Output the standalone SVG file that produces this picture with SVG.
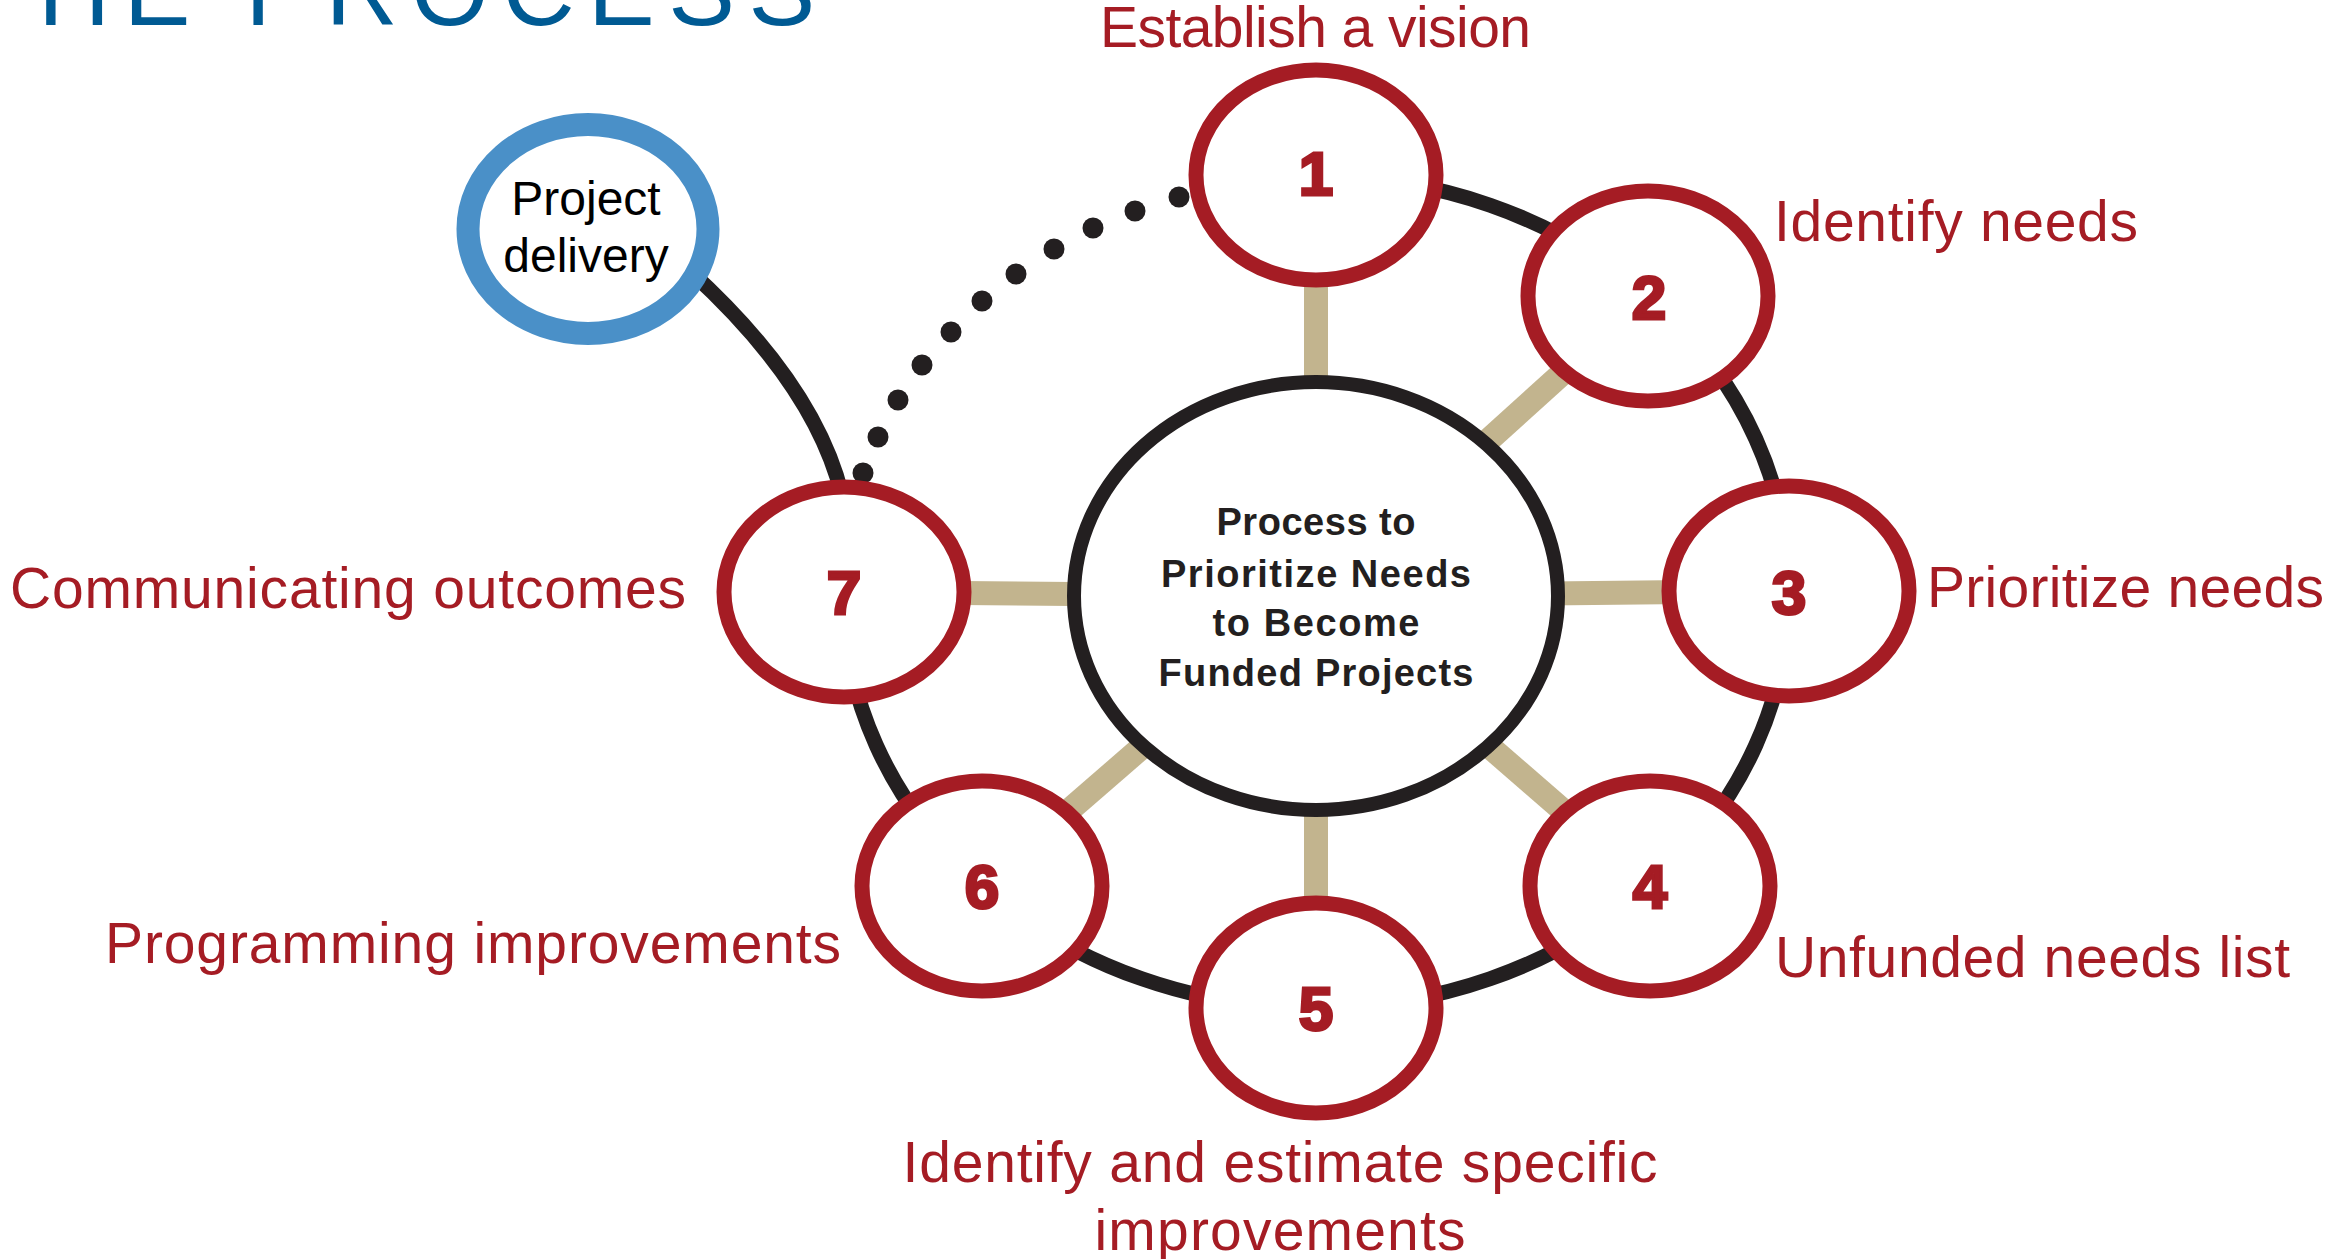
<svg xmlns="http://www.w3.org/2000/svg" width="2331" height="1259" viewBox="0 0 2331 1259">
<defs>
<style>
.spoke{stroke:#C2B48E;stroke-width:24;fill:none}
.ring{stroke:#231F20;stroke-width:15;fill:none}
.dot{fill:#231F20}
.node{fill:#fff;stroke:#A51C24;stroke-width:15}
.num{font-family:"Liberation Sans",Arial,sans-serif;font-weight:bold;font-size:62px;fill:#A51C24;stroke:#A51C24;stroke-width:3;text-anchor:middle}
.lbl{font-family:"Liberation Sans",Arial,sans-serif;font-size:57px;fill:#A51C24}
.ctr{font-family:"Liberation Sans",Arial,sans-serif;font-weight:bold;font-size:38px;fill:#231F20;text-anchor:middle}
</style>
</defs>
<rect width="2331" height="1259" fill="#fff"/>
<g id="title">
<text x="38" y="25" font-family="'Liberation Sans',Arial,sans-serif" font-size="100" letter-spacing="13.5" fill="#005A93">HE PROCESS</text>
</g>
<g id="connectors">
<line class="spoke" x1="1316" y1="596" x2="1316" y2="175"/>
<line class="spoke" x1="1316" y1="596" x2="1648" y2="296"/>
<line class="spoke" x1="1316" y1="596" x2="1789" y2="591"/>
<line class="spoke" x1="1316" y1="596" x2="1650" y2="886"/>
<line class="spoke" x1="1316" y1="596" x2="1316" y2="1008"/>
<line class="spoke" x1="1316" y1="596" x2="982" y2="886"/>
<line class="spoke" x1="1316" y1="596" x2="844" y2="592"/>
<path class="ring" d="M 1316 176 A 473 416 0 1 1 843 592"/>
<path class="ring" d="M 690 271 Q 815 385 842 495"/>
<circle class="dot" cx="863" cy="473" r="10.5"/>
<circle class="dot" cx="878" cy="437" r="10.5"/>
<circle class="dot" cx="898" cy="400" r="10.5"/>
<circle class="dot" cx="922" cy="365" r="10.5"/>
<circle class="dot" cx="951" cy="332" r="10.5"/>
<circle class="dot" cx="982" cy="301" r="10.5"/>
<circle class="dot" cx="1016" cy="274" r="10.5"/>
<circle class="dot" cx="1054" cy="249" r="10.5"/>
<circle class="dot" cx="1093" cy="228" r="10.5"/>
<circle class="dot" cx="1135" cy="211" r="10.5"/>
<circle class="dot" cx="1179" cy="197" r="10.5"/>
</g>
<g id="center">
<ellipse cx="1316" cy="596" rx="242" ry="214" fill="#fff" stroke="#231F20" stroke-width="14"/>
<text class="ctr" x="1316" y="535" textLength="199">Process to</text>
<text class="ctr" x="1316" y="587" textLength="310">Prioritize Needs</text>
<text class="ctr" x="1316" y="636" textLength="207">to Become</text>
<text class="ctr" x="1316" y="686" textLength="315">Funded Projects</text>
</g>
<g id="project-delivery">
<ellipse cx="588" cy="229" rx="120" ry="104.5" fill="#fff" stroke="#4A90C8" stroke-width="23"/>
<text x="586" y="215" font-family="'Liberation Sans',Arial,sans-serif" font-size="48" fill="#000" text-anchor="middle">Project</text>
<text x="586" y="272" font-family="'Liberation Sans',Arial,sans-serif" font-size="48" fill="#000" text-anchor="middle">delivery</text>
</g>
<g id="node1">
<ellipse class="node" cx="1316" cy="175" rx="120" ry="105"/>
<text class="num" x="1316" y="195">1</text>
<text class="lbl" x="1100" y="47" textLength="431">Establish a vision</text>
</g>
<g id="node2">
<ellipse class="node" cx="1648" cy="296" rx="120" ry="105"/>
<text class="num" x="1649" y="319">2</text>
<text class="lbl" x="1774" y="241" textLength="364">Identify needs</text>
</g>
<g id="node3">
<ellipse class="node" cx="1789" cy="591" rx="120" ry="105"/>
<text class="num" x="1789" y="614">3</text>
<text class="lbl" x="1927" y="607" textLength="397">Prioritize needs</text>
</g>
<g id="node4">
<ellipse class="node" cx="1650" cy="886" rx="120" ry="105"/>
<text class="num" x="1650" y="908">4</text>
<text class="lbl" x="1775" y="977" textLength="515">Unfunded needs list</text>
</g>
<g id="node5">
<ellipse class="node" cx="1316" cy="1008" rx="120" ry="105"/>
<text class="num" x="1316" y="1030">5</text>
<text class="lbl" x="1280" y="1182" text-anchor="middle" textLength="755">Identify and estimate specific</text>
<text class="lbl" x="1280" y="1250" text-anchor="middle" textLength="371">improvements</text>
</g>
<g id="node6">
<ellipse class="node" cx="982" cy="886" rx="120" ry="105"/>
<text class="num" x="982" y="908">6</text>
<text class="lbl" x="105" y="963" textLength="736">Programming improvements</text>
</g>
<g id="node7">
<ellipse class="node" cx="844" cy="592" rx="120" ry="105"/>
<text class="num" x="844" y="614">7</text>
<text class="lbl" x="10" y="608" textLength="676">Communicating outcomes</text>
</g>
</svg>
